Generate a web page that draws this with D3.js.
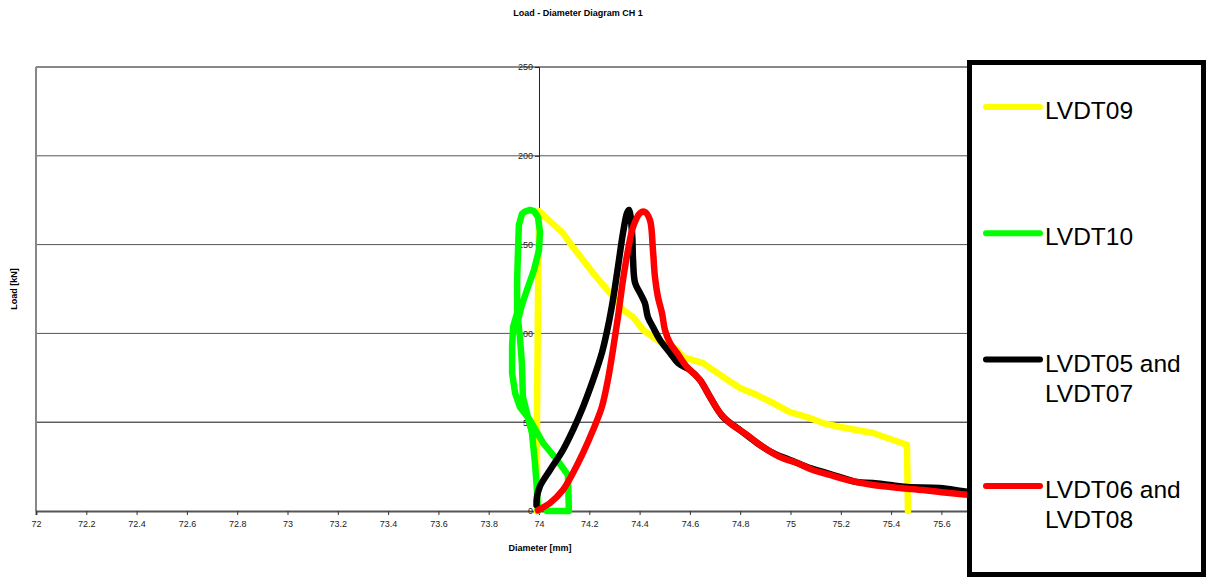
<!DOCTYPE html>
<meta charset="utf-8">
<style>
body{margin:0;background:#fff}
text{font-family:'Liberation Sans',Arial,sans-serif}
</style>
<svg id='svg'></svg>
<script src="https://d3js.org/d3.v7.min.js"></script>
<script>

var width = 1206, height = 579;

// tick values (75.8 and 76 sit under the legend, so they are left out)
var xTicks = [72,72.2,72.4,72.6,72.8,73,73.2,73.4,73.6,73.8,74,74.2,74.4,74.6,74.8,75,75.2,75.4,75.6];
var yTicks = [0,50,100,150,200,250];

// series, [diameter mm, load kN]
var lvdt09 = [[73.992,0],[73.992,49.5],[73.996,118.8],[74.0,168.9],[74.095,156.5],[74.135,148.6],[74.215,134],
  [74.282,122.7],[74.334,113.2],[74.374,109.2],[74.414,101.9],[74.469,96.3],[74.549,90.7],[74.573,86.7],
  [74.652,83.3],[74.732,75.5],[74.799,69.3],[74.867,65.3],[74.930,60.8],[74.998,55.7],[75.066,52.9],
  [75.129,49.5],[75.197,47.3],[75.328,43.9],[75.408,40.0],[75.463,37.2],[75.467,0]];

var lvdt10 = [[73.996,0],[73.992,11.8],[73.984,27.0],[73.972,43.9],[73.952,55.2],[73.936,64.2],[73.932,83.3],
  [73.924,98.0],[73.917,107.5],[73.932,116],[73.952,124.4],[73.980,135.7],[74.0,147],[74.004,157.1],
  [73.996,165.5],[73.980,168.8],[73.964,169.5],[73.944,168.6],[73.932,167.2],[73.920,161],[73.917,148.6],
  [73.913,130],[73.913,111.5],[73.897,103.6],[73.893,92.3],[73.893,77.7],[73.905,66.4],[73.924,58.6],
  [73.964,51.2],[74.016,38.3],[74.072,28.7],[74.115,20.3],[74.119,0],[74.032,0]];

var lvdt05_07 = [[73.990,3.4],[73.992,8],[74.004,14],[74.044,23.1],[74.095,34.3],[74.135,45.6],[74.175,58.6],
  [74.215,73.8],[74.250,89.0],[74.274,103.6],[74.294,118.8],[74.314,137.4],[74.334,156.5],[74.350,167.8],
  [74.358,169.5],[74.370,156.5],[74.374,141.3],[74.382,128.4],[74.402,122.7],[74.421,117.1],[74.433,109.2],
  [74.453,103.6],[74.481,96.3],[74.521,89.0],[74.553,83.3],[74.600,79.4],[74.640,73.8],[74.680,64.2],
  [74.732,52.9],[74.799,45.6],[74.867,38.3],[74.930,32.7],[74.998,28.7],[75.066,24.8],[75.129,22.0],
  [75.197,19.1],[75.264,16.3],[75.328,15.8],[75.396,14.6],[75.463,13.5],[75.594,13.0],[75.714,10.7],
  [75.9,9.5],[76,9]];

var lvdt06_08 = [[73.996,0.5],[74.044,4.5],[74.095,11.8],[74.135,21.4],[74.175,32.7],[74.215,45.6],[74.250,58.6],
  [74.274,73.8],[74.294,90.7],[74.314,109.2],[74.334,130.1],[74.354,147.0],[74.374,159.9],[74.402,167.8],
  [74.421,168.4],[74.441,163.9],[74.453,147.0],[74.461,131.8],[74.473,120.5],[74.489,111.5],[74.501,101.9],
  [74.521,94.6],[74.549,89.0],[74.588,81.1],[74.640,73.8],[74.680,64.2],[74.720,55.2],[74.759,49.5],
  [74.827,42.8],[74.891,36.0],[74.958,30.4],[75.026,27.0],[75.089,23.1],[75.157,20.3],[75.225,17.5],
  [75.328,14.6],[75.435,13.0],[75.527,11.8],[75.594,10.7],[75.714,9.0],[75.9,7.5],[76,7]];

var names = [['LVDT09'],['LVDT10'],['LVDT05 and','LVDT07'],['LVDT06 and','LVDT08']];
var colours = ['#ffff00','#00ff00','#000000','#ff0000'];
var seriesData = [lvdt09, lvdt10, lvdt05_07, lvdt06_08];

var svg = d3.select('svg').attr('width', width).attr('height', height);

var x = d3.scaleLinear().domain([72,76]).range([36,1042]);
var y = d3.scaleLinear().domain([0,250]).range([511,67]);

// gridlines
svg.append('g').selectAll('line')
  .data(yTicks.filter(d => d > 0))
  .enter().append('line')
  .attr('x1', x(72)).attr('x2', x(76))
  .attr('y1', d => y(d)).attr('y2', d => y(d))
  .attr('stroke', d => d == 250 ? '#888' : (d == 50 ? '#111' : '#555'))
  .attr('stroke-width', d => d == 250 ? 2 : 1);

// plot left border
svg.append('line').attr('x1', x(72)).attr('x2', x(72)).attr('y1', y(250)).attr('y2', y(0))
  .attr('stroke', '#888').attr('stroke-width', 2);

// x axis on load 0
var xAxis = d3.axisBottom(x).tickValues(xTicks).tickSize(4).tickPadding(6)
  .tickFormat(d => d3.format('~g')(d));
var gx = svg.append('g').attr('transform', 'translate(0,' + y(0) + ')').call(xAxis);
gx.select('.domain').attr('stroke', '#555').attr('stroke-width', 2);
gx.selectAll('.tick line').attr('stroke', '#333');
gx.selectAll('text').style('font-size', '9px').attr('fill', '#222');

// y axis crossing at 74
var yAxis = d3.axisLeft(y).tickValues(yTicks).tickSize(4).tickPadding(2);
var gy = svg.append('g').attr('transform', 'translate(' + x(74) + ',0)').call(yAxis);
gy.select('.domain').attr('stroke', '#222').attr('stroke-width', 1);
gy.selectAll('.tick line').attr('stroke', '#222');
gy.selectAll('text').style('font-size', '9px').attr('fill', '#222');

// curves: the LVDT pairs are smoothed, the other two keep sharp corners
var line = d3.line().x(d => x(d[0])).y(d => y(d[1]));
var smooth = d3.line().x(d => x(d[0])).y(d => y(d[1])).curve(d3.curveCatmullRom.alpha(0.5));
svg.append('g').selectAll('path')
  .data(seriesData)
  .enter().append('path')
  .attr('d', (d,i) => i < 2 ? line(d) : smooth(d))
  .attr('fill', 'none')
  .attr('stroke', (d,i) => colours[i])
  .attr('stroke-width', 6.5)
  .attr('stroke-linejoin', 'round')
  .attr('stroke-linecap', 'round');

// titles
svg.append('text').attr('x', 578).attr('y', 16).attr('text-anchor', 'middle')
  .style('font-size', '9px').style('font-weight', 'bold').text('Load - Diameter Diagram CH 1');
svg.append('text').attr('x', 540).attr('y', 551).attr('text-anchor', 'middle')
  .style('font-size', '9px').style('font-weight', 'bold').text('Diameter [mm]');
svg.append('text').attr('transform', 'translate(17,289) rotate(-90)').attr('text-anchor', 'middle')
  .style('font-size', '9px').style('font-weight', 'bold').text('Load [kN]');

// legend
var lg = svg.append('g');
lg.append('rect').attr('x', 969.5).attr('y', 62.5).attr('width', 234).attr('height', 512)
  .attr('fill', '#fff').attr('stroke', '#000').attr('stroke-width', 5);

var items = lg.selectAll('g.item').data(names).enter().append('g')
  .attr('transform', (d,i) => 'translate(0,' + (107 + i * 126.3) + ')');
items.append('line').attr('x1', 986).attr('x2', 1040).attr('y1', 0).attr('y2', 0)
  .attr('stroke', (d,i) => colours[i]).attr('stroke-width', 6).attr('stroke-linecap', 'round');
items.each(function(d) {
  var g = d3.select(this);
  d.forEach((s,j) => g.append('text').attr('x', 1045).attr('y', 12 + j * 30)
    .style('font-size', '24.5px').attr('fill', '#000').text(s));
});

</script>
